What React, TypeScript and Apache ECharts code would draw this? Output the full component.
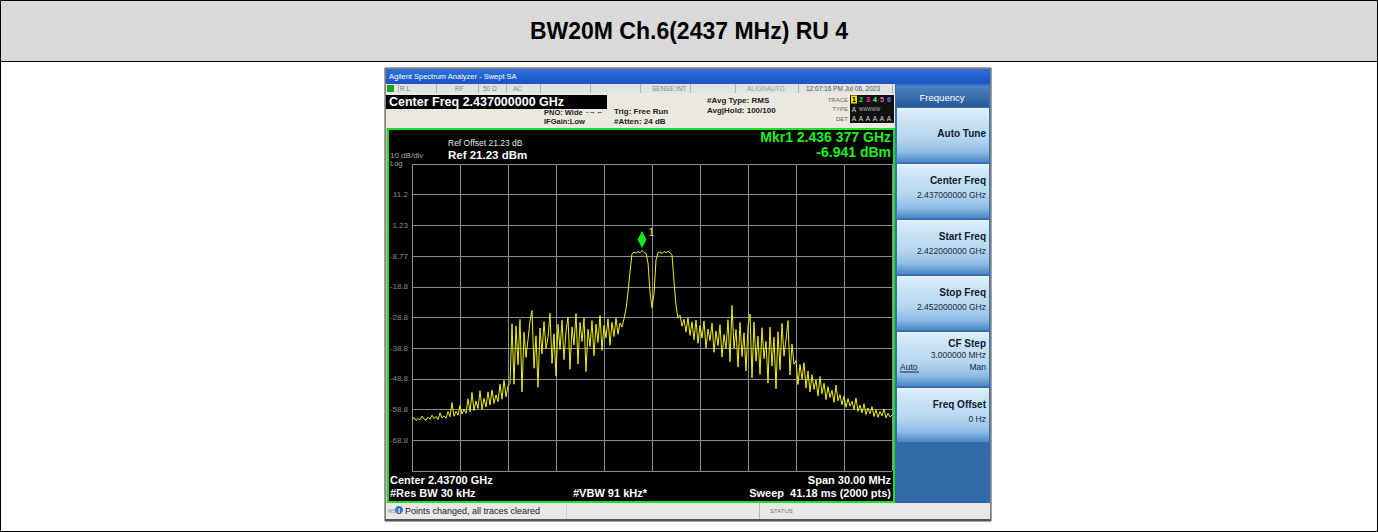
import React, { useEffect, useRef } from "react";
import * as echarts from "echarts";

const chartTitle = "BW20M Ch.6(2437 MHz) RU 4";
const startMHz = 2422;
const stopMHz = 2452;
const sweepStepMHz = 0.125;
const refLevelDbm = 21.23;
const dbPerDiv = 10;
const xDivMHz = 3;
const markerFreqMHz = 2436.377;
const markerDbm = -6.941;

// trace values (dBm), left noise floor -> right noise floor
const floorLeft = [
  -62.0, -61.4, -62.3, -61.7, -62.1, -60.9, -61.8, -62.2, -61.2, -61.9,
  -60.6, -61.7, -61.0, -62.0, -59.8, -61.5, -60.8, -61.6, -59.4, -61.1,
  -56.5, -60.9, -59.3, -60.6, -57.4, -60.2, -58.6, -60.0, -55.3, -59.5,
  -53.2, -59.1, -56.0, -58.4, -52.6, -58.7, -55.1, -57.9, -53.0, -57.3,
  -52.4, -56.8, -54.0, -56.2, -50.5, -55.4, -49.2, -54.6, -51.0, -50.3,
];
const spursLeft = [
  -30.8, -50.5, -31.5, -44.2, -29.4, -53.0, -33.6, -41.8, -36.0, -29.9,
  -26.5, -45.3, -34.7, -51.5, -32.2, -40.6, -30.1, -38.9, -35.3, -27.4,
  -43.7, -34.1, -47.8, -31.0, -39.2, -29.7, -42.5, -33.3, -28.6, -45.6,
  -31.8, -37.7, -27.5, -43.9, -30.4, -36.6, -28.9, -46.4, -32.6, -38.3,
  -29.8, -41.2, -30.9, -36.9, -28.1, -39.5, -31.3, -35.4, -29.2, -37.8,
  -30.3, -35.0, -29.0, -34.2, -30.6, -31.9, -29.2,
];
const channelTop = [
  -26.0, -20.5, -14.0, -8.0, -7.5, -7.8, -7.3, -7.7, -6.941, -7.6,
  -7.9, -11.0, -20.5, -25.6, -21.0, -10.0, -7.6, -7.4, -7.9, -7.3,
  -7.6, -7.2, -7.7, -8.4, -17.0, -25.0,
];
const spursRight = [
  -29.0, -28.0, -31.6, -29.3, -33.5, -28.8, -34.6, -30.2, -36.0, -29.6,
  -37.2, -31.4, -35.5, -29.9, -38.7, -32.5, -36.3, -30.6, -40.1, -33.2,
  -37.9, -31.1, -41.6, -34.3, -39.0, -29.5, -43.2, -24.9, -38.8, -32.7,
  -44.9, -30.4, -41.5, -33.8, -46.2, -31.6, -27.6, -48.4, -30.3, -43.0,
  -34.9, -47.3, -32.1, -42.2, -36.5, -50.1, -31.9, -44.6, -35.2, -52.0,
  -33.4, -45.8, -30.7, -41.4, -35.9, -29.8, -47.5, -37.4, -44.0,
];
const floorRight = [
  -42.8, -50.6, -44.1, -48.9, -43.5, -51.8, -46.2, -53.0, -47.4, -52.2,
  -49.1, -54.3, -48.0, -53.6, -50.2, -55.5, -51.3, -54.8, -52.5, -56.4,
  -50.8, -55.9, -53.9, -57.2, -54.4, -58.0, -55.2, -57.6, -56.1, -58.7,
  -55.0, -59.3, -57.3, -59.8, -56.9, -60.4, -58.2, -60.1, -57.8, -61.0,
  -58.9, -61.3, -59.4, -60.8, -58.6, -61.5, -60.0, -61.2, -60.5,
];
const traceDbm = [...floorLeft, ...spursLeft, ...channelTop, ...spursRight, ...floorRight];

const softkeys = [
  { label: "Auto Tune", value: "" },
  { label: "Center Freq", value: "2.437000000 GHz" },
  { label: "Start Freq", value: "2.422000000 GHz" },
  { label: "Stop Freq", value: "2.452000000 GHz" },
  { label: "CF Step", value: "3.000000 MHz" },
  { label: "Freq Offset", value: "0 Hz" },
];

const traceNums = ["1", "2", "3", "4", "5", "6"];
const traceColors = ["#000000", "#22ee22", "#ff3399", "#55ff99", "#ff66aa", "#7777ff"];

const FONT = "'Liberation Sans', Arial, Helvetica, sans-serif";

function txt(x: number, y: number, text: string, size: number, fill: string, opt: any = {}) {
  return {
    type: "text",
    x,
    y,
    z: opt.z ?? 30,
    silent: true,
    style: {
      text,
      fontSize: size,
      fill,
      fontFamily: FONT,
      fontWeight: opt.bold ? "bold" : "normal",
      textAlign: opt.align || "left",
      textVerticalAlign: "middle",
    },
  };
}

function box(x: number, y: number, w: number, h: number, fill: any, opt: any = {}) {
  const style: any = { fill };
  if (opt.stroke) {
    style.stroke = opt.stroke;
    style.lineWidth = opt.lw ?? 1;
  }
  return { type: "rect", z: opt.z ?? -10, silent: true, shape: { x, y, width: w, height: h }, style };
}

function vline(x: number, y1: number, y2: number, color: string) {
  return { type: "line", z: -5, silent: true, shape: { x1: x, y1, x2: x, y2 }, style: { stroke: color, lineWidth: 1 } };
}

function grad(stops: [number, string][]) {
  return {
    type: "linear",
    x: 0,
    y: 0,
    x2: 0,
    y2: 1,
    colorStops: stops.map(([offset, color]) => ({ offset, color })),
  };
}

function buildGraphics() {
  const g: any[] = [];
  // outer page frame
  g.push(box(0.5, 0.5, 1377, 61, "#d9d9d9", { stroke: "#000", z: -20 }));
  g.push(box(0.5, 61.5, 1377, 470, "#ffffff", { stroke: "#000", z: -20 }));
  g.push(txt(689, 31, chartTitle, 23, "#000", { bold: true, align: "center" }));

  // analyzer screenshot frame
  g.push(box(385, 68, 606, 453, "#bdbdbd", { stroke: "#444", z: -19 }));
  g.push(box(386, 69, 604, 15, grad([[0, "#2f6fdc"], [1, "#1a55c2"]]), { z: -18 }));
  g.push(txt(389, 76.5, "Agilent Spectrum Analyzer - Swept SA", 7.5, "#ffffff"));

  // status row
  g.push(box(386, 84, 509, 9, "#e2e2e2", { z: -18 }));
  g.push(box(387, 85, 7, 7, "#1aa81a", { z: -17 }));
  [398, 436, 478, 506, 540, 590, 640, 690, 735, 798, 892].forEach((x) => g.push(vline(x + 0.5, 84, 93, "#b5b5b5")));
  g.push(txt(400, 88.5, "R L", 6.5, "#777"));
  g.push(txt(455, 88.5, "RF", 6.5, "#888"));
  g.push(txt(483, 88.5, "50 Ω", 6.5, "#888"));
  g.push(txt(513, 88.5, "AC", 6.5, "#888"));
  g.push(txt(652, 88.5, "SENSE:INT", 6.5, "#888"));
  g.push(txt(747, 88.5, "ALIGNAUTO", 6.5, "#999"));
  g.push(txt(806, 88.5, "12:07:16 PM Jul 06, 2023", 6.5, "#555"));

  // settings area
  g.push(box(386, 93, 509, 35, "#ebe8df", { z: -18 }));
  g.push(box(386, 95, 221, 14, "#000000", { z: -17 }));
  g.push(txt(389, 102, "Center Freq 2.437000000 GHz", 12.5, "#ffffff", { bold: true }));
  g.push(txt(544, 112, "PNO: Wide", 7.5, "#222", { bold: true }));
  g.push(txt(586, 111.5, "-→←", 7.5, "#222"));
  g.push(txt(544, 121.5, "IFGain:Low", 7.5, "#222", { bold: true }));
  g.push(txt(614, 111.5, "Trig: Free Run", 8, "#222", { bold: true }));
  g.push(txt(614, 121.5, "#Atten: 24 dB", 8, "#222", { bold: true }));
  g.push(txt(707, 100, "#Avg Type: RMS", 8, "#222", { bold: true }));
  g.push(txt(707, 110.5, "Avg|Hold: 100/100", 8, "#222", { bold: true }));
  // trace/type/det box
  g.push(txt(848, 99.5, "TRACE", 6, "#666", { align: "right" }));
  g.push(txt(848, 109, "TYPE", 6, "#666", { align: "right" }));
  g.push(txt(848, 118.5, "DET", 6, "#666", { align: "right" }));
  g.push(box(850, 95, 44, 28, "#111111", { z: -16 }));
  g.push(box(851, 95.5, 6, 8, "#e8e800", { z: -15 }));
  traceNums.forEach((n, i) => {
    g.push(txt(854 + i * 7, 99.5, n, 7, traceColors[i], { bold: true, align: "center" }));
    g.push(txt(854 + i * 7, 118.5, "A", 6.5, "#dddddd", { align: "center" }));
  });
  g.push(txt(854, 109, "A", 6.5, "#dddddd", { align: "center" }));
  g.push(txt(859, 109, "WWWWW", 4.5, "#bbbbbb"));

  // display area
  g.push(box(388, 129, 506, 373, "#000000", { stroke: "#1ee01e", lw: 2, z: -15 }));
  g.push(txt(448, 143, "Ref Offset 21.23 dB", 8.5, "#e6e6e6"));
  g.push(txt(448, 154.5, "Ref 21.23 dBm", 11.5, "#ffffff", { bold: true }));
  g.push(txt(390, 155, "10 dB/div", 8, "#a8a8a8"));
  g.push(txt(390, 163.5, "Log", 7.5, "#a8a8a8"));
  g.push(txt(891, 137, "Mkr1 2.436 377 GHz", 14, "#22ee22", { bold: true, align: "right" }));
  g.push(txt(891, 151.5, "-6.941 dBm", 14, "#22ee22", { bold: true, align: "right" }));
  g.push(txt(390, 480, "Center 2.43700 GHz", 11, "#ffffff", { bold: true }));
  g.push(txt(390, 493, "#Res BW 30 kHz", 11, "#ffffff", { bold: true }));
  g.push(txt(573, 493, "#VBW 91 kHz*", 11, "#ffffff", { bold: true }));
  g.push(txt(891, 480, "Span 30.00 MHz", 11, "#ffffff", { bold: true, align: "right" }));
  g.push(txt(891, 493, "Sweep  41.18 ms (2000 pts)", 11, "#ffffff", { bold: true, align: "right" }));

  // softkey panel
  g.push(box(895, 84, 95, 419, grad([[0, "#3a74b8"], [1, "#3369a8"]]), { z: -18 }));
  g.push(box(896, 86, 93, 21, grad([[0, "#4f82c4"], [1, "#28589a"]]), { z: -17 }));
  g.push(txt(942, 97, "Frequency", 9.5, "#ffffff", { align: "center" }));
  softkeys.forEach((k, i) => {
    const top = 108 + i * 56;
    g.push(
      box(
        897,
        top,
        92,
        54,
        grad([
          [0, "#e6f2fb"],
          [0.12, "#d2e7f6"],
          [0.55, "#b6d7ef"],
          [0.8, "#8fbee6"],
          [1, "#4d88c8"],
        ]),
        { z: -16 }
      )
    );
    if (k.label === "CF Step") {
      g.push(txt(986, top + 11, k.label, 10, "#0d1a33", { bold: true, align: "right" }));
      g.push(txt(986, top + 23, k.value, 8.5, "#1a2a44", { align: "right" }));
      g.push(txt(900, top + 35, "Auto", 8.5, "#1a2a44"));
      g.push({ type: "line", z: 30, silent: true, shape: { x1: 900, y1: top + 40, x2: 919, y2: top + 40 }, style: { stroke: "#1a2a44", lineWidth: 1 } });
      g.push(txt(986, top + 35, "Man", 8.5, "#1a2a44", { align: "right" }));
    } else if (k.value) {
      g.push(txt(986, top + 16, k.label, 10, "#0d1a33", { bold: true, align: "right" }));
      g.push(txt(986, top + 31, k.value, 8.5, "#1a2a44", { align: "right" }));
    } else {
      g.push(txt(986, top + 25, k.label, 10, "#0d1a33", { bold: true, align: "right" }));
    }
  });

  // bottom message bar
  g.push(box(386, 503, 604, 16, "#e8e8e8", { z: -18 }));
  g.push(box(385, 519, 606, 2, "#555555", { z: -18 }));
  g.push(vline(759.5, 503, 519, "#bbbbbb"));
  g.push(vline(566.5, 503, 519, "#cfcfcf"));
  g.push(txt(388, 511, "MSG", 5, "#888"));
  g.push({ type: "circle", z: 25, silent: true, shape: { cx: 399, cy: 510, r: 4 }, style: { fill: "#2a6fd6" } });
  g.push(txt(399, 510.5, "i", 7, "#ffffff", { bold: true, align: "center" }));
  g.push(txt(405, 511, "Points changed, all traces cleared", 9, "#222"));
  g.push(txt(770, 511, "STATUS", 6, "#777"));
  return g;
}

function buildOption() {
  const yMin = refLevelDbm - dbPerDiv * 10;
  const traceData = traceDbm.map((v, i) => [startMHz + i * sweepStepMHz, v]);
  return {
    animation: false,
    backgroundColor: "#ffffff",
    grid: { left: 412, top: 164, width: 480, height: 307, show: false },
    xAxis: {
      type: "value",
      min: startMHz,
      max: stopMHz,
      interval: xDivMHz,
      axisLine: { show: false },
      axisTick: { show: false },
      axisLabel: { show: false },
      splitLine: { show: true, lineStyle: { color: "#8e8e8e", width: 1 } },
    },
    yAxis: {
      type: "value",
      min: yMin,
      max: refLevelDbm,
      interval: dbPerDiv,
      axisLine: { show: false },
      axisTick: { show: false },
      axisLabel: {
        show: true,
        margin: 4,
        color: "#8a8a8a",
        fontSize: 8,
        fontFamily: FONT,
        formatter: (v: number) => {
          if (v > refLevelDbm - 0.5 || v < yMin + 0.5) return "";
          return String(Number(v.toPrecision(3)));
        },
      },
      splitLine: { show: true, lineStyle: { color: "#8e8e8e", width: 1 } },
    },
    graphic: { elements: buildGraphics() },
    series: [
      {
        type: "line",
        data: traceData,
        symbol: "none",
        showSymbol: false,
        z: 5,
        lineStyle: { color: "#f2f200", width: 1 },
        markPoint: {
          silent: true,
          symbol: "diamond",
          symbolSize: [9, 17],
          symbolOffset: [0, -11],
          itemStyle: { color: "#19e619" },
          label: {
            show: true,
            formatter: "1",
            position: "right",
            distance: 2,
            offset: [0, -7],
            color: "#e6e600",
            fontSize: 10,
            fontFamily: FONT,
          },
          data: [{ coord: [markerFreqMHz, markerDbm] }],
        },
      },
    ],
  };
}

export default function App() {
  const ref = useRef<HTMLDivElement>(null);
  useEffect(() => {
    document.body.style.margin = "0";
    const chart = echarts.init(ref.current as HTMLDivElement, null, { renderer: "svg" });
    chart.setOption(buildOption() as any);
    return () => chart.dispose();
  }, []);
  return <div ref={ref} style={{ width: 1378, height: 532 }} />;
}
